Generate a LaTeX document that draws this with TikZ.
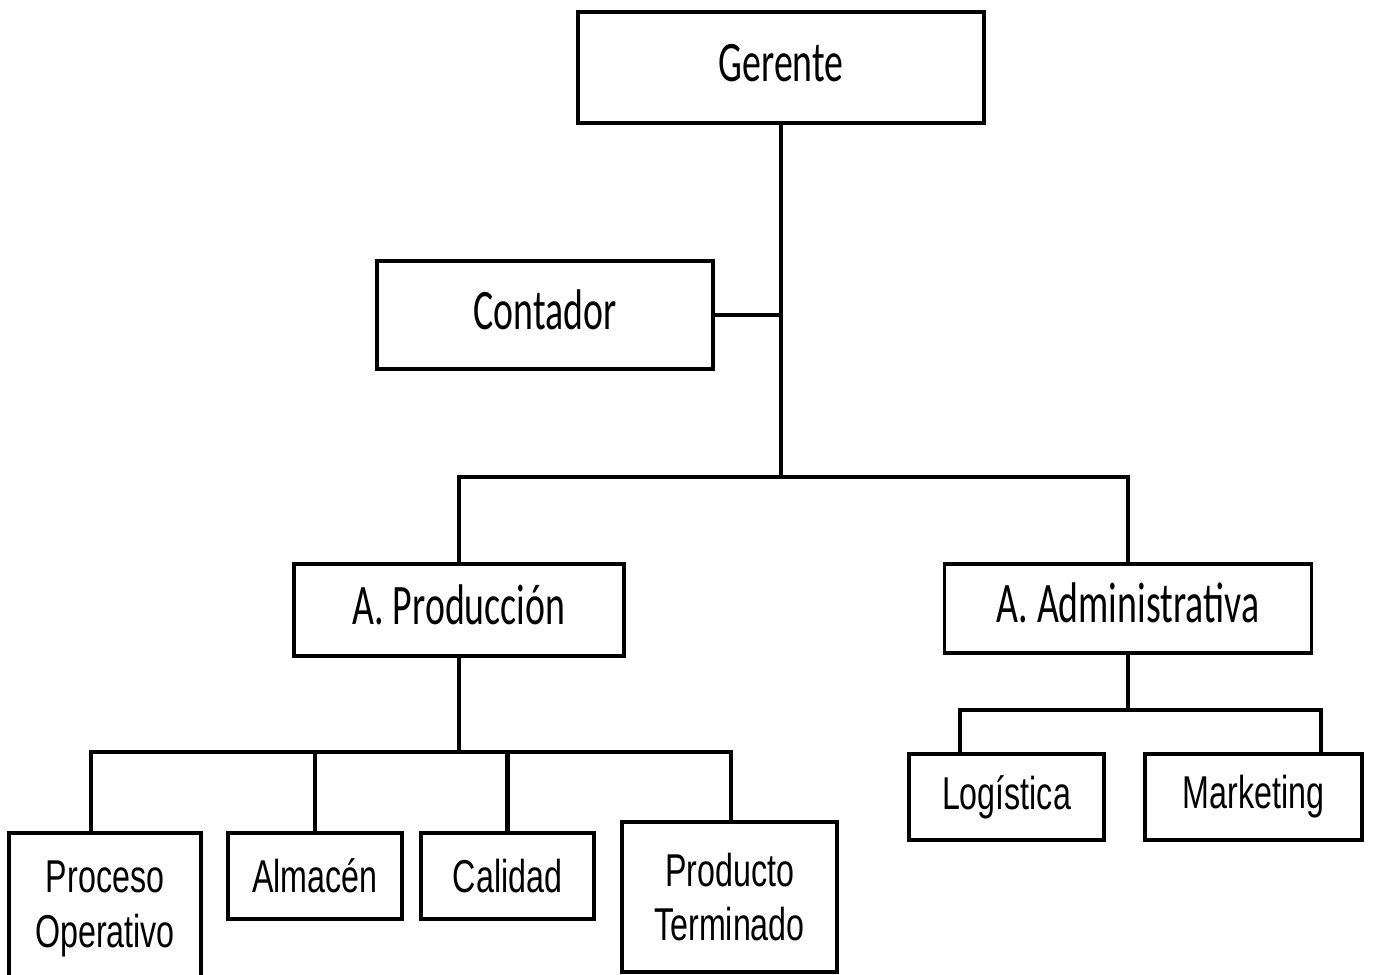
\documentclass[tikz,border=0pt]{standalone}
\usepackage{fontspec}
\setmainfont{Liberation Sans}[FakeStretch=0.70]
\newfontfamily\topfont{Carlito}[FakeStretch=0.66]
\tikzset{
		box/.style={draw, line width=0.9pt, inner sep=0pt, align=center},
		topbox/.style={box, text height=3.9mm, text depth=1.1mm, font=\topfont\fontsize{16.3}{19}\selectfont},
		lowbox/.style={box, font=\fontsize{13.1}{15.5}\selectfont},
		link/.style={line width=0.9pt},
		boldlink/.style={line width=1.4pt}
	}

\begin{document}
\begin{tikzpicture}[x=0.1mm, y=-0.1mm] % one unit = one pixel of the original
		\useasboundingbox (0,0) rectangle (1373,974);
		% upper levels
		\node[topbox, minimum width=40.6mm, minimum height=11.1mm] (gerente) at (781,67.5) {Gerente};
		\node[topbox, minimum width=33.6mm, minimum height=10.8mm] (contador) at (545,315) {Contador};
		\node[topbox, minimum width=33mm, minimum height=9.2mm] (aprod) at (459,610) {A. Producción};
		\node[topbox, minimum width=36.7mm, minimum height=8.9mm] (aadm) at (1128,608.5) {A. Administrativa};
		% lower level
		\node[lowbox, minimum width=19.2mm, minimum height=15.2mm] (proceso) at (105,909) {Proceso\\Operativo};
		\node[lowbox, minimum width=17.4mm, minimum height=8.6mm] (almacen) at (315,876) {Almacén};
		\node[lowbox, minimum width=17.3mm, minimum height=8.6mm] (calidad) at (507.5,876) {Calidad};
		\node[lowbox, minimum width=21.5mm, minimum height=15mm] (producto) at (729.5,897) {Producto\\Terminado};
		\node[lowbox, minimum width=19.5mm, minimum height=8.6mm] (logistica) at (1006.5,797) {Logística};
		\node[lowbox, minimum width=21.7mm, minimum height=8.6mm] (marketing) at (1253.5,797) {Marketing};
		% connectors
		\coordinate (hub) at (781,477);
		\coordinate (pbar) at (459,752);
		\coordinate (abar) at (1128,710);
		\draw[link] (gerente.south) -- (hub);
		\draw[link] (contador.east) -- (contador.east -| gerente.south);
		\draw[link] (aprod.north) |- (hub) -| (aadm.north);
		\draw[boldlink] (aprod.south) -- (pbar);
		\draw[boldlink] ([xshift=-1.4mm]proceso.north) |- (pbar) -| ([xshift=0.15mm]producto.north);
		\foreach \n in {almacen, calidad}
		  \draw[boldlink] (pbar -| \n.north) -- (\n.north);
		\draw[boldlink] (aadm.south) -- (abar);
		\draw[boldlink] ([xshift=-4.65mm]logistica.north) |- (abar) -| ([xshift=6.75mm]marketing.north);
	\end{tikzpicture}
\end{document}
